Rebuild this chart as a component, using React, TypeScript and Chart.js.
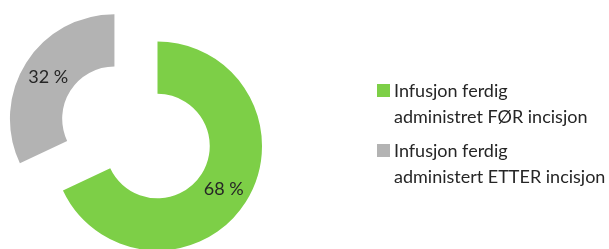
import React, { useEffect, useRef } from "react";
import { Chart, registerables } from "chart.js";

Chart.register(...registerables);

const categories = [
  "Infusjon ferdig administret FØR incisjon",
  "Infusjon ferdig administert ETTER incisjon",
];
const legendLines = [
  ["Infusjon ferdig", "administret FØR incisjon"],
  ["Infusjon ferdig", "administert ETTER incisjon"],
];
const values = [68, 32];
const valueLabels = ["68 %", "32 %"];
const colors = ["#7DCF47", "#B3B3B3"];
const explode = [0, 51];

const FONT = "Lato, 'Open Sans', sans-serif";

const explodePlugin = {
  id: "explodeSlices",
  afterUpdate(chart: any) {
    const meta = chart.getDatasetMeta(0);
    meta.data.forEach((el: any, i: number) => {
      const d = explode[i] || 0;
      if (!d) return;
      const half = (el.startAngle + el.endAngle) / 2;
      el.x += Math.cos(half) * d;
      el.y += Math.sin(half) * d;
    });
  },
};

const labelPlugin = {
  id: "sliceLabels",
  afterDatasetsDraw(chart: any) {
    const ctx = chart.ctx;
    const meta = chart.getDatasetMeta(0);
    ctx.save();
    ctx.font = `18px ${FONT}`;
    ctx.fillStyle = "#262626";
    ctx.textAlign = "center";
    ctx.textBaseline = "middle";
    meta.data.forEach((el: any, i: number) => {
      const p = el.getCenterPoint();
      ctx.fillText(valueLabels[i], p.x, p.y + 1);
    });
    ctx.restore();
  },
};

export default function App() {
  const ref = useRef<HTMLCanvasElement | null>(null);

  useEffect(() => {
    document.body.style.margin = "0";
    if (!ref.current) return;
    const chart = new Chart(ref.current, {
      type: "doughnut",
      data: {
        labels: categories,
        datasets: [
          {
            data: values,
            backgroundColor: colors,
            borderWidth: 0,
          },
        ],
      },
      options: {
        animation: false,
        responsive: false,
        maintainAspectRatio: false,
        cutout: "50%",
        radius: 104.5,
        layout: { padding: { left: 0, right: 294, top: 43, bottom: 0 } },
        plugins: {
          legend: { display: false },
          tooltip: { enabled: false },
        },
        events: [],
      },
      plugins: [explodePlugin, labelPlugin],
    });
    return () => chart.destroy();
  }, []);

  return (
    <div style={{ position: "absolute", left: 0, top: 0, width: 609, height: 249, background: "#fff" }}>
      <canvas ref={ref} width={609} height={249} style={{ position: "absolute", left: 0, top: 0 }} />
      {legendLines.map((lines, i) => (
        <div key={i} style={{ position: "absolute", left: 377, top: 77 + i * 60 }}>
          <div
            style={{
              position: "absolute",
              left: 0,
              top: 7,
              width: 13,
              height: 13,
              background: colors[i],
            }}
          />
          <div
            style={{
              position: "absolute",
              left: 17,
              top: 0,
              whiteSpace: "nowrap",
              font: `18px ${FONT}`,
              lineHeight: "26px",
              color: "#262626",
            }}
          >
            {lines.map((l, j) => (
              <div key={j}>{l}</div>
            ))}
          </div>
        </div>
      ))}
    </div>
  );
}
